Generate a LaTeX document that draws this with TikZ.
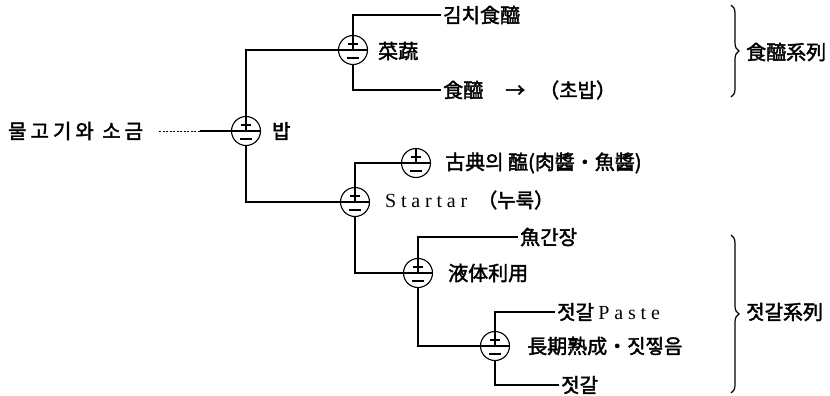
\documentclass[tikz,border=0pt]{standalone}
\usepackage{fontspec}
\setmainfont{Liberation Serif}
\newfontfamily\kr{Noto Sans CJK KR}[FakeBold=2]
\newfontfamily\krw{Noto Sans CJK KR}[FakeBold=2, LetterSpace=20]
\newfontfamily\latw{Liberation Serif}[LetterSpace=24]
\usetikzlibrary{decorations.pathreplacing}
\tikzset{
  sym/.style={circle, draw, minimum size=29pt, inner sep=0pt, line width=1.1pt,
    path picture={
      \coordinate (pc) at (path picture bounding box.center);
      \draw[line width=1.1pt] ([yshift=15pt]pc) -- (pc);
      \draw[line width=1.1pt] ([xshift=-5pt,yshift=6pt]pc) -- ([xshift=5pt,yshift=6pt]pc);
      \draw[line width=1.1pt] ([xshift=-15pt]pc) -- ([xshift=15pt]pc);
      \draw[line width=1.1pt] ([xshift=-6pt,yshift=-8pt]pc) -- ([xshift=6pt,yshift=-8pt]pc);
    }},
  txt/.style={anchor=west, inner sep=2pt, font=\kr\fontsize{20}{23}\selectfont},
  conn/.style={line width=1.1pt},
  brc/.style={decorate, decoration={brace, amplitude=8pt}, line width=1.2pt}
}
\begin{document}
\begin{tikzpicture}[x=1pt, y=-1pt]
\useasboundingbox (0,0) rectangle (830,396);
% nodes
\node[txt, font=\krw\fontsize{20}{23}\selectfont] (src) at (6,131) {물고기와 소금};
\node[sym] (s0) at (246,131) {};
\node[txt] (l0) at (270,131) {밥};
\node[sym] (s1) at (353,50) {};
\node[txt] (l1) at (376,51) {菜蔬};
\node[txt] (t1) at (441,15) {김치食醯};
\node[txt] (t2) at (441,90) {食醯\hspace{22pt}→\hspace{14pt}（초밥）};
\node[sym] (s2) at (355,202) {};
\node[txt] (l2) at (383,200) {{\latw\fontsize{20}{23}\selectfont Startar}\hspace{10pt}（누룩）};
\node[sym] (s3) at (416,163) {};
\node[txt] (l3) at (443,163) {古典의 醢(肉醬・魚醬)};
\node[sym] (s4) at (418,273) {};
\node[txt] (l4) at (446,273) {液体利用};
\node[txt] (t3) at (518,237) {魚간장};
\node[sym] (s5) at (495,346) {};
\node[txt] (l5) at (525,346) {長期熟成・짓찧음};
\node[txt] (t4) at (555,312) {젓갈 {\latw\fontsize{20}{23}\selectfont Paste}};
\node[txt] (t5) at (559,385) {젓갈};
\node[txt] (b1) at (744,52) {食醯系列};
\node[txt] (b2) at (744,312) {젓갈系列};
\coordinate (m0) at (200,131);
% connectors
\draw[conn, dash pattern=on 2pt off 1.5pt, line width=0.8pt, shorten <=14pt] (src.east) -- (m0);
\draw[conn] (m0) -- (s0.west);
\draw[conn] (s0.north) |- (s1.west);
\draw[conn] (s1.north) |- (t1.west);
\draw[conn] (s1.south) |- (t2.west);
\draw[conn] (s0.south) |- (s2.west);
\draw[conn] (s2.north) |- (s3.west);
\draw[conn] (s2.south) |- (s4.west);
\draw[conn] (s4.north) |- (t3.west);
\draw[conn] (s4.south) |- (s5.west);
\draw[conn] (s5.north) |- (t4.west);
\draw[conn] (s5.south) |- (t5.west);
% braces
\draw[brc] (731,5) -- (731,97);
\draw[brc] (731,235) -- (731,393);
\end{tikzpicture}
\end{document}
